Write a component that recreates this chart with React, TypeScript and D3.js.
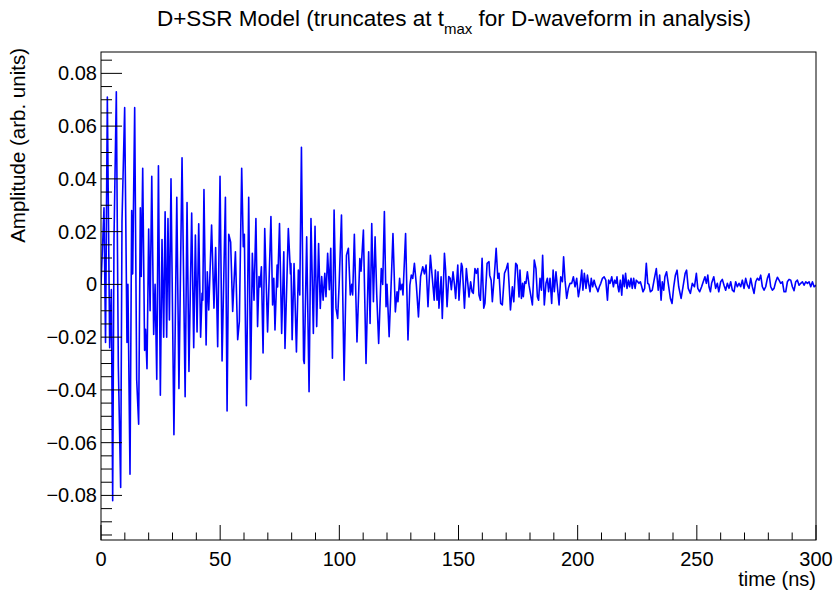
import React from "react";
import * as d3 from "d3";

const title = "D+SSR Model (truncates at t";
const titleSub = "max";
const titleEnd = " for D-waveform in analysis)";
const xTitle = "time (ns)";
const yTitle = "Amplitude (arb. units)";

const xMajorTicks = [0, 50, 100, 150, 200, 250, 300];
const yMajorTicks = [-0.08, -0.06, -0.04, -0.02, 0, 0.02, 0.04, 0.06, 0.08];

const times = [
  0, 0.8, 1.26, 1.9, 2.66, 3.64, 4.34, 4.9, 5.45, 6.43, 7.27, 8.25, 8.81, 9.93, 10.9, 11.3, 12.17, 12.87, 13.29, 14.13,
  14.97, 15.8, 16.5, 16.9, 17.5, 18.3, 18.7, 19.3, 20.0, 20.6, 21.3, 22.1, 22.7, 23.4, 24.1, 24.9, 25.6, 26.3, 26.9,
  27.56, 28.1, 28.7, 29.37, 30.6, 31.8, 32.7, 34.0, 35.3, 36.1, 36.9, 38.05, 38.9, 39.6, 40.3, 41.0, 41.8, 42.4, 42.7,
  43.2, 44.1, 44.6, 45.2, 46.4, 47.4, 48.1, 48.96, 49.94, 50.8, 52.2, 52.9, 53.6, 54.4, 55.25,
  56.4, 57.35, 58.05, 59.03, 59.7, 60.15, 61.0, 61.97, 62.8, 63.5, 64.2, 65.0, 65.7, 66.3, 66.7, 67.3, 68.0, 68.7, 69.9,
  71.3, 72.0, 72.5, 73.0, 73.9, 74.1, 74.9, 75.8, 76.7, 77.2, 78.6, 79.5, 79.7, 80.2, 81.0, 82.0, 82.8, 83.4, 84.1,
  85.0, 85.3, 86.3, 87.3, 88.1, 89.1, 89.8, 90.5, 91.3, 92.0, 92.6, 93.2, 93.9, 94.4, 95.1, 95.8, 96.4, 97.1, 97.8, 98.6,
  99.3, 99.9, 100.9, 102.0, 103.0, 103.8, 104.6, 105.2, 105.6, 106.3, 107.4, 108.6, 109.1, 110.1, 111.2,
  112.3, 112.9, 113.6, 114.3, 115.0, 115.7, 116.5, 117.6, 118.2, 118.9, 119.6, 120.0, 120.9, 121.6, 122.5, 123.5, 124.2,
  124.6, 125.3, 125.7, 126.3, 126.7, 127.8, 128.8, 129.6, 130.2, 130.8, 131.5, 132.3, 133.2, 134.1, 135.0, 135.7, 136.4,
  137.2, 138.2,
  139.8, 140.3, 141.0, 141.4, 141.8, 142.7, 143.2, 144.1, 144.6, 145.2, 145.9, 146.5, 147.0, 147.7, 148.3, 148.8, 149.7,
  150.2, 151.2, 151.6, 152.5, 153.3, 153.9, 154.4, 155.1, 155.7, 156.2, 156.9, 157.5, 158.1, 158.6, 159.2, 159.9, 160.6,
  161.1, 162.0, 162.8, 163.1, 163.7, 164.2, 165.1, 165.8, 166.5, 167.0, 167.7, 168.4, 169.3, 170.1, 170.7, 171.2, 171.8,
  172.6, 173.2, 174.0, 174.6, 175.4,
  175.8, 176.4, 176.9, 177.2, 177.8, 178.3, 178.9, 179.6, 181.0, 181.8, 182.5, 183.1, 183.6, 184.2, 184.8, 185.3, 186.0,
  186.7, 187.3, 187.8, 188.4, 189.1, 189.7, 190.2, 190.9, 191.5, 192.2, 192.9, 193.6, 194.1, 194.7, 195.4, 196.1, 196.8,
  197.5, 198.2, 198.9, 199.6, 200.3, 201.0, 201.7, 202.2, 202.8, 203.5, 204.1, 204.6, 205.2, 205.7, 206.3, 206.9, 207.4,
  208.0, 208.5, 209.1, 209.7, 210.4, 211.1, 211.8, 212.5, 213.0, 213.6, 214.3, 215.0, 215.5, 216.1,
  216.5, 216.9, 217.3, 217.9, 218.5, 219.0, 219.6, 220.1, 220.7, 221.3, 221.8, 222.4, 222.9, 223.5, 224.1, 224.6, 225.2,
  225.7, 226.3, 226.9, 227.4, 228.1, 228.8, 229.4, 229.9, 230.5, 231.3, 232.2, 233.0, 233.8, 234.4, 235.0, 235.5, 236.1,
  236.6, 237.3, 238.0, 238.9, 239.6, 240.3, 241.0, 241.7, 242.4, 243.4, 244.2, 245.1, 245.7, 246.4, 247.3, 248.1, 249.0,
  249.8, 250.4, 251.2, 252.0, 252.9, 253.4, 254.0, 254.6, 255.1, 255.7, 256.2, 257.1,
  257.9, 258.6, 259.2, 260.0, 260.7, 261.4, 262.1, 262.8, 263.5, 264.2, 264.9, 265.6, 266.3, 267.0, 267.7, 268.4, 269.1,
  269.8, 270.5, 271.2, 271.9, 272.6, 273.3, 274.0, 274.7, 275.4, 276.1, 276.8, 277.5, 278.2, 278.9, 279.6, 280.3, 281.0,
  281.7, 282.4, 283.1, 283.8, 284.5, 285.2, 285.9, 286.6, 287.3, 288.0, 288.7, 289.4, 290.1, 290.8, 291.5, 292.2, 292.9,
  293.6, 294.3, 295.0, 295.7, 296.4, 297.1, 297.8, 298.5, 299.2, 300.0,
];

const amps = [
  0.0, 0.018, 0.029, -0.022, 0.071, -0.024, -0.002, -0.082, 0.017, 0.073, -0.031, -0.077, 0.024, 0.067, -0.022, 0.0, -0.072, 0.028, 0.004, 0.067,
  -0.036, -0.053, 0.029, 0.003, 0.044, -0.025, -0.017, -0.032, 0.021, -0.01, 0.041, -0.019, 0.0, -0.036, 0.045, -0.042, 0.017, -0.02, 0.0275,
  -0.02, 0.025, -0.0135, 0.04, -0.057, 0.033, -0.0395, 0.048, -0.0426, 0.031, -0.033, 0.027, -0.024, 0.0187, -0.018, 0.023, -0.02, -0.0034, -0.006,
  0.036, -0.023, 0.0048, -0.0097, 0.0225, -0.009, 0.014, -0.0236, 0.041, -0.029, 0.033, -0.048, 0.019, 0.016, -0.0103,
  0.0124, -0.021, -0.014, 0.044, 0.0143, 0.019, -0.046, 0.033, -0.036, 0.0118, -0.006, 0.025, -0.016, 0.003, -0.001, 0.0067, -0.026, 0.0212, -0.018,
  0.0257, -0.0078, 0.0023, -0.0173, 0.0073, -0.001, 0.0231, -0.0186, 0.0124, -0.0243, 0.0212, 0.004, 0.0079, -0.021, 0.0079, -0.0256, 0.0054, -0.004, 0.052,
  -0.0287, -0.03, 0.018, -0.0407, 0.025, -0.0186, 0.022, -0.016, 0.0155, -0.0091, 0.003, -0.006, 0.0042, -0.0047, 0.0118, -0.002, 0.0137, -0.028, 0.0282, -0.009,
  -0.0129, -0.0003, 0.0263, -0.0363, 0.0111, 0.0137, -0.004, 0.0, -0.004, 0.019, -0.0218, 0.0098, 0.005, 0.0206, -0.03,
  0.0124, -0.0148, 0.0231, -0.0066, 0.018, -0.004, -0.0224, 0.006, 0.0, 0.0276, -0.0085, 0.0, -0.0198, -0.0034, 0.0193, -0.0104, -0.0028,
  -0.0066, 0.0023, -0.002, 0.0, -0.004, 0.0193, -0.0211, -0.0003, 0.0035, 0.0023, 0.008, 0.0, -0.0123, 0.003, 0.0067, 0.004, 0.0073,
  -0.0085, 0.011,
  -0.006, 0.0054, -0.006, 0.0048, -0.009, 0.0029, -0.0129, 0.0118, 0.0054, -0.0085, 0.003, 0.0023, -0.002, 0.0048, 0.0, -0.0053, 0.0073,
  -0.006, 0.008, 0.0067, -0.009, 0.006, 0.0004, -0.0048, 0.001, -0.0028, -0.0034, 0.006, 0.0042, 0.006, -0.004, -0.006, 0.0099, -0.009,
  -0.0072, 0.008, 0.0086, 0.0035, 0.0016, -0.0066, 0.0042, 0.0137, 0.0023, 0.0042, -0.0072, -0.0078, 0.0042, 0.006, 0.008, 0.0004, -0.0097,
  -0.0009, -0.0066, 0.008, 0.0073, -0.0048,
  0.0054, -0.0053, 0.0004, -0.0047, 0.001, 0.0004, 0.0048, -0.0003, -0.0078, 0.0092, 0.006, -0.0047, -0.006, 0.0023, -0.0022, 0.011, -0.0078,
  0.0004, 0.0023, -0.0028, 0.0023, -0.0072, 0.0054, -0.0028, 0.0048, -0.0009, -0.0078, 0.0029, 0.001, 0.0105, 0.0016, -0.0053, -0.0015, 0.0004,
  0.0004, 0.0029, -0.0009, 0.0023, -0.0047, -0.0009, 0.0054, -0.0022, 0.0042, -0.0015, 0.0035, 0.0004, -0.0028, 0.0023, -0.0009, 0.0016, -0.0003,
  -0.0015, -0.0028, -0.0009, 0.0004, 0.0023, 0.0029, 0.0016, -0.006, 0.0016, 0.0004, 0.0029, -0.0009, 0.0016, 0.0004,
  0.0029, -0.0009, -0.0028, 0.0016, -0.0041, 0.0035, -0.0009, 0.0042, -0.0015, 0.0016, -0.0009, 0.0023, -0.0015, 0.0023, -0.0015, 0.0016, 0.001,
  0.0004, 0.001, -0.0009, -0.0028, -0.0015, 0.008, 0.0004, 0.0, -0.0028, -0.0022, 0.0023, 0.006, -0.0022, 0.0035, -0.006, 0.001, -0.0022,
  0.0029, 0.0048, 0.0004, -0.0053, -0.0072, -0.0009, 0.0035, 0.0054, -0.0009, -0.0053, -0.0009, 0.0042, 0.0054, -0.0015, -0.0034, 0.0004, -0.0009,
  0.0042, -0.0015, -0.0028, -0.0009, 0.0016, 0.0029, 0.0004, 0.0035, -0.0009, -0.0028, 0.0004, 0.0029,
  -0.0015, 0.0004, -0.0028, 0.001, 0.0019, -0.0003, -0.0022, 0.0004, -0.0015, 0.001, -0.0022, -0.0028, 0.001, -0.0009, 0.0004, -0.0009, 0.0016,
  -0.0015, 0.0023, -0.0003, -0.0015, 0.0023, -0.0009, -0.0034, 0.001, 0.0023, 0.0016, 0.0035, -0.0009, -0.0022, -0.0009, 0.0023, 0.004, -0.0009,
  -0.0022, -0.0015, 0.001, 0.0027, 0.0016, 0.0004, 0.001, -0.0028, -0.0028, 0.001, 0.0019, 0.0016, -0.0009, -0.0024, 0.001, 0.0016, -0.0003,
  0.0004, 0.001, -0.0003, 0.001, 0.0004, 0.001, -0.0009, 0.001, -0.0009, -0.0003,
];

const W = 836;
const H = 592;
const left = 101;
const right = 816;
const top = 52;
const bottom = 540;
const FONT = "'Liberation Sans', Arial, Helvetica, sans-serif";

export default function App() {
  const x = d3.scaleLinear().domain([0, 300]).range([left, right]);
  const y = d3.scaleLinear().domain([-0.0969, 0.0881]).range([bottom, top]);

  const pts = times.map((t, i) => [t, amps[i]] as [number, number]);
  const line = d3
    .line<[number, number]>()
    .x((d) => x(d[0]))
    .y((d) => y(d[1]));

  const xMinor = d3.range(0, 301, 10).filter((v) => v % 50 !== 0);
  const yMinor = d3
    .range(-95, 86, 5)
    .map((v) => v / 1000)
    .filter((v) => Math.abs(Math.round(v * 1000)) % 20 !== 0);

  const fmtY = (v: number) => {
    if (Math.abs(v) < 1e-9) return "0";
    const s = Math.abs(v).toFixed(2);
    return v < 0 ? "\u2212" + s : s;
  };

  return (
    <svg
      width={W}
      height={H}
      style={{ position: "absolute", left: 0, top: 0, background: "#fff" }}
      fontFamily={FONT}
    >
      <rect x={0} y={0} width={W} height={H} fill="#fff" />
      <defs>
        <clipPath id="plotclip">
          <rect x={left} y={top} width={right - left} height={bottom - top} />
        </clipPath>
      </defs>
      <path
        d={line(pts) || ""}
        fill="none"
        stroke="#0000ff"
        strokeWidth={1.6}
        strokeLinejoin="round"
        clipPath="url(#plotclip)"
      />
      <rect x={left} y={top} width={right - left} height={bottom - top} fill="none" stroke="#000" strokeWidth={1} />
      {/* x ticks */}
      {xMajorTicks.map((v) => (
        <g key={"xm" + v}>
          <line x1={x(v)} x2={x(v)} y1={bottom} y2={bottom - 15} stroke="#000" strokeWidth={1} />
          <text x={x(v)} y={bottom + 26} fontSize={20} textAnchor="middle" fill="#000">
            {v}
          </text>
        </g>
      ))}
      {xMinor.map((v) => (
        <line key={"xn" + v} x1={x(v)} x2={x(v)} y1={bottom} y2={bottom - 7.5} stroke="#000" strokeWidth={1} />
      ))}
      {/* y ticks */}
      {yMajorTicks.map((v) => (
        <g key={"ym" + v}>
          <line x1={left} x2={left + 21} y1={y(v)} y2={y(v)} stroke="#000" strokeWidth={1} />
          <text x={left - 4} y={y(v) + 7} fontSize={20} textAnchor="end" fill="#000">
            {fmtY(v)}
          </text>
        </g>
      ))}
      {yMinor.map((v) => (
        <line key={"yn" + v} x1={left} x2={left + 11} y1={y(v)} y2={y(v)} stroke="#000" strokeWidth={1} />
      ))}
      {/* axis titles */}
      <text x={right} y={bottom + 46} fontSize={20} textAnchor="end" fill="#000">
        {xTitle}
      </text>
      <text
        transform={`translate(25, 48) rotate(-90)`}
        fontSize={20.5}
        textAnchor="end"
        fill="#000"
      >
        {yTitle}
      </text>
      {/* title */}
      <text x={454} y={26} fontSize={22.5} textAnchor="middle" fill="#000">
        {title}
        <tspan dy={8} fontSize={15}>
          {titleSub}
        </tspan>
        <tspan dy={-8}>{titleEnd}</tspan>
      </text>
    </svg>
  );
}
